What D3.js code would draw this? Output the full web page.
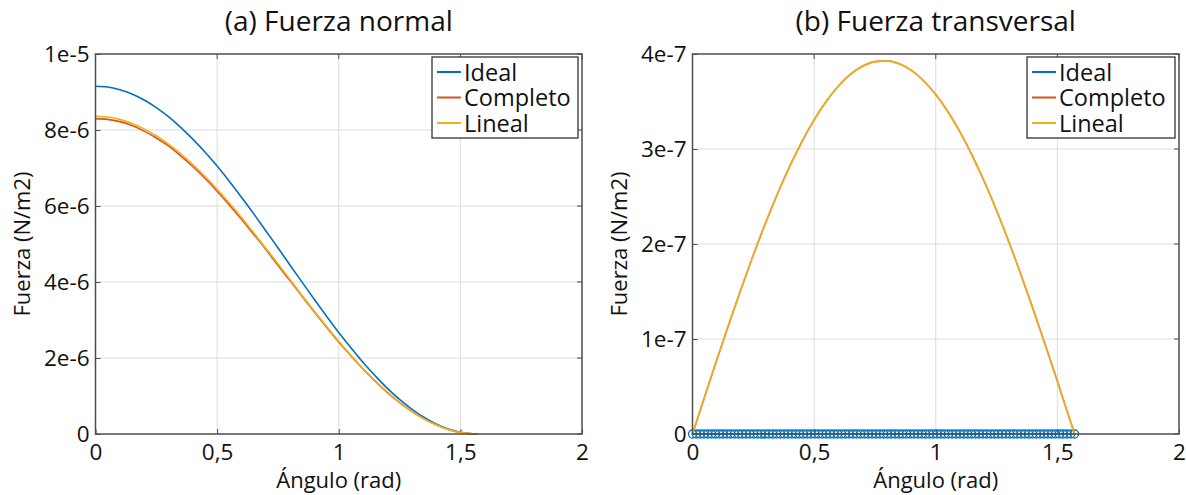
<!DOCTYPE html>
<html>
<head>
<meta charset="utf-8">
<script src="https://cdn.jsdelivr.net/npm/d3@7"></script>
<style>
  html, body { margin: 0; padding: 0; background: #fff; }
  svg { display: block; }
  text { font-family: "Open Sans", "Noto Sans", sans-serif; fill: #111; }
</style>
</head>
<body>
<svg id="chart" width="1186" height="495"></svg>
<script>
// ---------- DATA ----------
const angles = [0, 0.05, 0.10, 0.15, 0.20, 0.25, 0.30, 0.35, 0.40, 0.45, 0.50, 0.55, 0.60, 0.65, 0.70, 0.75,
  0.80, 0.85, 0.90, 0.95, 1.00, 1.05, 1.10, 1.15, 1.20, 1.25, 1.30, 1.35, 1.40, 1.45, 1.50, 1.55, 1.5708];

// (a) Fuerza normal, N/m2
const normalIdeal = [9.15e-6, 9.13e-6, 9.06e-6, 8.95e-6, 8.79e-6, 8.59e-6, 8.35e-6, 8.07e-6, 7.76e-6, 7.42e-6,
  7.05e-6, 6.65e-6, 6.23e-6, 5.80e-6, 5.35e-6, 4.90e-6, 4.44e-6, 3.99e-6, 3.54e-6, 3.10e-6, 2.67e-6,
  2.27e-6, 1.88e-6, 1.53e-6, 1.20e-6, 0.91e-6, 0.655e-6, 0.44e-6, 0.264e-6, 0.133e-6, 0.046e-6, 0.004e-6, 0];
const normalCompleto = [8.30e-6, 8.28e-6, 8.22e-6, 8.12e-6, 7.97e-6, 7.79e-6, 7.58e-6, 7.32e-6, 7.04e-6, 6.73e-6,
  6.39e-6, 6.03e-6, 5.65e-6, 5.26e-6, 4.86e-6, 4.44e-6, 4.03e-6, 3.62e-6, 3.21e-6, 2.81e-6, 2.42e-6,
  2.06e-6, 1.71e-6, 1.39e-6, 1.09e-6, 0.825e-6, 0.594e-6, 0.398e-6, 0.24e-6, 0.121e-6, 0.042e-6, 0.004e-6, 0];
const normalLineal = [8.36e-6, 8.34e-6, 8.28e-6, 8.17e-6, 8.03e-6, 7.85e-6, 7.63e-6, 7.38e-6, 7.09e-6, 6.78e-6,
  6.44e-6, 6.08e-6, 5.70e-6, 5.30e-6, 4.89e-6, 4.48e-6, 4.06e-6, 3.64e-6, 3.23e-6, 2.83e-6, 2.44e-6,
  2.07e-6, 1.72e-6, 1.40e-6, 1.10e-6, 0.831e-6, 0.598e-6, 0.401e-6, 0.242e-6, 0.121e-6, 0.042e-6, 0.004e-6, 0];

// (b) Fuerza transversal, N/m2
const transCompleto = [0, 0.392e-7, 0.781e-7, 1.161e-7, 1.530e-7, 1.884e-7, 2.219e-7, 2.532e-7, 2.819e-7, 3.078e-7,
  3.307e-7, 3.502e-7, 3.663e-7, 3.787e-7, 3.873e-7, 3.920e-7, 3.928e-7, 3.897e-7, 3.827e-7, 3.719e-7, 3.573e-7,
  3.392e-7, 3.177e-7, 2.931e-7, 2.655e-7, 2.352e-7, 2.026e-7, 1.680e-7, 1.317e-7, 0.940e-7, 0.555e-7, 0.163e-7, 0];
const transLineal = [0, 0.392e-7, 0.781e-7, 1.161e-7, 1.530e-7, 1.884e-7, 2.219e-7, 2.532e-7, 2.819e-7, 3.078e-7,
  3.307e-7, 3.502e-7, 3.663e-7, 3.787e-7, 3.873e-7, 3.920e-7, 3.928e-7, 3.897e-7, 3.827e-7, 3.719e-7, 3.573e-7,
  3.392e-7, 3.177e-7, 2.931e-7, 2.655e-7, 2.352e-7, 2.026e-7, 1.680e-7, 1.317e-7, 0.940e-7, 0.555e-7, 0.163e-7, 0];

// Ideal transversal force: zero at every sampled angle (drawn with circle markers)
const idealAngles = [0, 0.0157, 0.0314, 0.0471, 0.0628, 0.0785, 0.0942, 0.1100, 0.1257, 0.1414, 0.1571, 0.1728,
  0.1885, 0.2042, 0.2199, 0.2356, 0.2513, 0.2670, 0.2827, 0.2985, 0.3142, 0.3299, 0.3456, 0.3613, 0.3770, 0.3927,
  0.4084, 0.4241, 0.4398, 0.4555, 0.4712, 0.4869, 0.5027, 0.5184, 0.5341, 0.5498, 0.5655, 0.5812, 0.5969, 0.6126,
  0.6283, 0.6440, 0.6597, 0.6754, 0.6912, 0.7069, 0.7226, 0.7383, 0.7540, 0.7697, 0.7854, 0.8011, 0.8168, 0.8325,
  0.8482, 0.8639, 0.8796, 0.8954, 0.9111, 0.9268, 0.9425, 0.9582, 0.9739, 0.9896, 1.0053, 1.0210, 1.0367, 1.0524,
  1.0681, 1.0838, 1.0996, 1.1153, 1.1310, 1.1467, 1.1624, 1.1781, 1.1938, 1.2095, 1.2252, 1.2409, 1.2566, 1.2723,
  1.2881, 1.3038, 1.3195, 1.3352, 1.3509, 1.3666, 1.3823, 1.3980, 1.4137, 1.4294, 1.4451, 1.4608, 1.4765, 1.4923,
  1.5080, 1.5237, 1.5394, 1.5551, 1.5708];
const transIdeal = [0, 0, 0, 0, 0, 0, 0, 0, 0, 0, 0, 0, 0, 0, 0, 0, 0, 0, 0, 0, 0, 0, 0, 0, 0, 0, 0, 0, 0, 0, 0, 0,
  0, 0, 0, 0, 0, 0, 0, 0, 0, 0, 0, 0, 0, 0, 0, 0, 0, 0, 0, 0, 0, 0, 0, 0, 0, 0, 0, 0, 0, 0, 0, 0, 0, 0, 0, 0, 0, 0,
  0, 0, 0, 0, 0, 0, 0, 0, 0, 0, 0, 0, 0, 0, 0, 0, 0, 0, 0, 0, 0, 0, 0, 0, 0, 0, 0, 0, 0, 0, 0];

const seriesNames = ["Ideal", "Completo", "Lineal"];
const xTicks = [0, 0.5, 1, 1.5, 2];
const xTickLabels = ["0", "0,5", "1", "1,5", "2"];
const yTicksA = [0, 2e-6, 4e-6, 6e-6, 8e-6, 1e-5];
const yTickLabelsA = ["0", "2e-6", "4e-6", "6e-6", "8e-6", "1e-5"];
const yTicksB = [0, 1e-7, 2e-7, 3e-7, 4e-7];
const yTickLabelsB = ["0", "1e-7", "2e-7", "3e-7", "4e-7"];
const titles = ["(a) Fuerza normal", "(b) Fuerza transversal"];
const xLabel = "Ángulo (rad)";
const yLabel = "Fuerza (N/m2)";

// ---------- STYLE ----------
const colors = { Ideal: "#0072BD", Completo: "#D95319", Lineal: "#EDB120" };
const svg = d3.select("#chart");

function drawPanel(p) {
  const x = d3.scaleLinear().domain([0, 2]).range([p.left, p.right]);
  const y = d3.scaleLinear().domain([0, p.ymax]).range([p.bottom, p.top]);
  const g = svg.append("g");

  // grid
  g.append("g").selectAll("line").data(xTicks.slice(1, -1)).join("line")
    .attr("x1", d => x(d)).attr("x2", d => x(d)).attr("y1", p.top).attr("y2", p.bottom)
    .attr("stroke", "#dcdcdc").attr("stroke-width", 1);
  g.append("g").selectAll("line").data(p.yTicks.slice(1, -1)).join("line")
    .attr("y1", d => y(d)).attr("y2", d => y(d)).attr("x1", p.left).attr("x2", p.right)
    .attr("stroke", "#dcdcdc").attr("stroke-width", 1);

  // axes (inward ticks)
  const xAxis = d3.axisBottom(x).tickValues(xTicks).tickSizeInner(-5).tickSizeOuter(0)
    .tickPadding(10).tickFormat((d, i) => xTickLabels[i]);
  const gx = g.append("g").attr("transform", `translate(0,${p.bottom})`).call(xAxis);
  const yAxis = d3.axisLeft(y).tickValues(p.yTicks).tickSizeInner(-5).tickSizeOuter(0)
    .tickPadding(6).tickFormat((d, i) => p.yTickLabels[i]);
  const gy = g.append("g").attr("transform", `translate(${p.left},0)`).call(yAxis);
  [gx, gy].forEach(a => {
    a.select(".domain").remove();
    a.selectAll(".tick line").attr("stroke", "#4d4d4d");
    a.selectAll(".tick text").attr("font-size", 22.5).attr("fill", "#111")
      .attr("font-family", '"Open Sans", sans-serif');
  });
  // right and top inward ticks
  g.append("g").selectAll("line").data(p.yTicks).join("line")
    .attr("x1", p.right).attr("x2", p.right - 5).attr("y1", d => y(d)).attr("y2", d => y(d))
    .attr("stroke", "#4d4d4d");
  g.append("g").selectAll("line").data(xTicks).join("line")
    .attr("x1", d => x(d)).attr("x2", d => x(d)).attr("y1", p.top).attr("y2", p.top + 5)
    .attr("stroke", "#4d4d4d");

  // series
  const line = d3.line().x(d => x(d[0])).y(d => y(d[1])).curve(d3.curveMonotoneX);
  p.series.forEach(s => {
    const pts = s.xs.map((v, i) => [v, s.ys[i]]);
    g.append("path").datum(pts).attr("d", line).attr("fill", "none")
      .attr("stroke", colors[s.name]).attr("stroke-width", 1.6);
    if (s.markers) {
      g.append("g").selectAll("circle").data(pts).join("circle")
        .attr("cx", d => x(d[0])).attr("cy", d => y(d[1])).attr("r", 4)
        .attr("fill", "none").attr("stroke", colors[s.name]).attr("stroke-width", 1.3);
    }
  });

  // frame
  g.append("rect").attr("x", p.left).attr("y", p.top)
    .attr("width", p.right - p.left).attr("height", p.bottom - p.top)
    .attr("fill", "none").attr("stroke", "#4d4d4d").attr("stroke-width", 1.5);

  // title & labels
  g.append("text").attr("x", (p.left + p.right) / 2).attr("y", 31)
    .attr("text-anchor", "middle").attr("font-size", 28).text(p.title);
  g.append("text").attr("x", (p.left + p.right) / 2).attr("y", 488)
    .attr("text-anchor", "middle").attr("font-size", 22).text(xLabel);
  g.append("text").attr("transform", `translate(${p.ylabelX},${(p.top + p.bottom) / 2}) rotate(-90)`)
    .attr("text-anchor", "middle").attr("font-size", 22).text(yLabel);

  // legend
  const lg = g.append("g");
  lg.append("rect").attr("x", p.legX).attr("y", p.top + 3).attr("width", p.legW).attr("height", 81)
    .attr("fill", "#fff").attr("stroke", "#333").attr("stroke-width", 1.3);
  const rowStep = 25.5;
  seriesNames.forEach((n, i) => {
    const cy = p.top + 18 + i * rowStep;
    lg.append("line").attr("x1", p.legX + 5).attr("x2", p.legX + 29).attr("y1", cy).attr("y2", cy)
      .attr("stroke", colors[n]).attr("stroke-width", 2);
  });
  const lt = lg.append("text").attr("font-size", 23.5).attr("fill", "#0a0a2a");
  seriesNames.forEach((n, i) => {
    lt.append("tspan").attr("x", p.legX + 32).attr("y", p.top + 18 + i * rowStep + 8.5).text(n);
  });
}

drawPanel({
  left: 95.5, right: 582, top: 54, bottom: 434, ymax: 1e-5,
  yTicks: yTicksA, yTickLabels: yTickLabelsA, title: titles[0], ylabelX: 30,
  legX: 432, legW: 146,
  series: [
    { name: "Ideal", xs: angles, ys: normalIdeal },
    { name: "Completo", xs: angles, ys: normalCompleto },
    { name: "Lineal", xs: angles, ys: normalLineal }
  ]
});
drawPanel({
  left: 692.5, right: 1179, top: 54, bottom: 434, ymax: 4e-7,
  yTicks: yTicksB, yTickLabels: yTickLabelsB, title: titles[1], ylabelX: 627,
  legX: 1027, legW: 148,
  series: [
    { name: "Ideal", xs: idealAngles, ys: transIdeal, markers: true },
    { name: "Completo", xs: angles, ys: transCompleto },
    { name: "Lineal", xs: angles, ys: transLineal }
  ]
});
</script>
</body>
</html>
